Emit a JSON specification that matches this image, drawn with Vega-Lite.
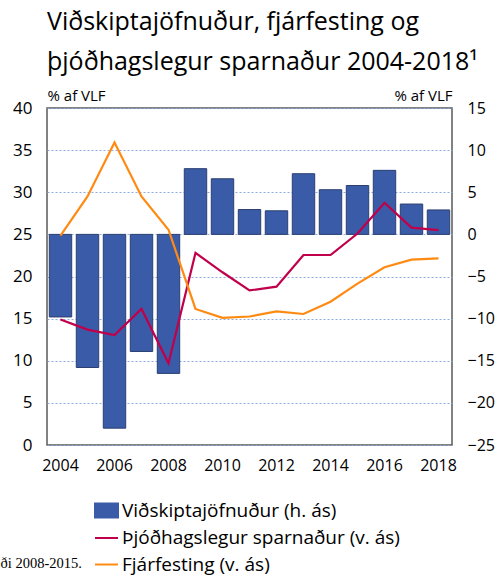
{
  "$schema": "https://vega.github.io/schema/vega-lite/v6.json",
  "width": 405,
  "height": 337,
  "autosize": {"type": "none"},
  "padding": {"left": 47, "top": 108, "right": 43, "bottom": 131},
  "background": "white",
  "config": {
    "view": {"stroke": "#595959", "strokeWidth": 1.5},
    "font": "Open Sans",
    "axis": {"labelFont": "Open Sans", "titleFont": "Open Sans", "labelColor": "#000", "titleColor": "#000"}
  },
  "title": {
    "text": ["Viðskiptajöfnuður, fjárfesting og", "þjóðhagslegur sparnaður 2004-2018¹"],
    "anchor": "start",
    "frame": "group",
    "font": "Open Sans",
    "fontSize": 25,
    "fontWeight": "normal",
    "lineHeight": 40,
    "color": "#000",
    "offset": 13
  },
  "data": {
    "values": [
      {"year": 2004, "series": "Viðskiptajöfnuður (h. ás)", "value": -9.8},
      {"year": 2005, "series": "Viðskiptajöfnuður (h. ás)", "value": -15.8},
      {"year": 2006, "series": "Viðskiptajöfnuður (h. ás)", "value": -23.0},
      {"year": 2007, "series": "Viðskiptajöfnuður (h. ás)", "value": -13.9},
      {"year": 2008, "series": "Viðskiptajöfnuður (h. ás)", "value": -16.5},
      {"year": 2009, "series": "Viðskiptajöfnuður (h. ás)", "value": 7.8},
      {"year": 2010, "series": "Viðskiptajöfnuður (h. ás)", "value": 6.6},
      {"year": 2011, "series": "Viðskiptajöfnuður (h. ás)", "value": 2.95},
      {"year": 2012, "series": "Viðskiptajöfnuður (h. ás)", "value": 2.8},
      {"year": 2013, "series": "Viðskiptajöfnuður (h. ás)", "value": 7.2},
      {"year": 2014, "series": "Viðskiptajöfnuður (h. ás)", "value": 5.3},
      {"year": 2015, "series": "Viðskiptajöfnuður (h. ás)", "value": 5.8},
      {"year": 2016, "series": "Viðskiptajöfnuður (h. ás)", "value": 7.6},
      {"year": 2017, "series": "Viðskiptajöfnuður (h. ás)", "value": 3.6},
      {"year": 2018, "series": "Viðskiptajöfnuður (h. ás)", "value": 2.9},
      {"year": 2004, "series": "Þjóðhagslegur sparnaður (v. ás)", "value": 14.9},
      {"year": 2005, "series": "Þjóðhagslegur sparnaður (v. ás)", "value": 13.7},
      {"year": 2006, "series": "Þjóðhagslegur sparnaður (v. ás)", "value": 13.05},
      {"year": 2007, "series": "Þjóðhagslegur sparnaður (v. ás)", "value": 16.15},
      {"year": 2008, "series": "Þjóðhagslegur sparnaður (v. ás)", "value": 9.7},
      {"year": 2009, "series": "Þjóðhagslegur sparnaður (v. ás)", "value": 22.8},
      {"year": 2010, "series": "Þjóðhagslegur sparnaður (v. ás)", "value": 20.5},
      {"year": 2011, "series": "Þjóðhagslegur sparnaður (v. ás)", "value": 18.35},
      {"year": 2012, "series": "Þjóðhagslegur sparnaður (v. ás)", "value": 18.8},
      {"year": 2013, "series": "Þjóðhagslegur sparnaður (v. ás)", "value": 22.55},
      {"year": 2014, "series": "Þjóðhagslegur sparnaður (v. ás)", "value": 22.55},
      {"year": 2015, "series": "Þjóðhagslegur sparnaður (v. ás)", "value": 25.1},
      {"year": 2016, "series": "Þjóðhagslegur sparnaður (v. ás)", "value": 28.75},
      {"year": 2017, "series": "Þjóðhagslegur sparnaður (v. ás)", "value": 25.8},
      {"year": 2018, "series": "Þjóðhagslegur sparnaður (v. ás)", "value": 25.5},
      {"year": 2004, "series": "Fjárfesting (v. ás)", "value": 24.85},
      {"year": 2005, "series": "Fjárfesting (v. ás)", "value": 29.5},
      {"year": 2006, "series": "Fjárfesting (v. ás)", "value": 35.9},
      {"year": 2007, "series": "Fjárfesting (v. ás)", "value": 29.5},
      {"year": 2008, "series": "Fjárfesting (v. ás)", "value": 25.55},
      {"year": 2009, "series": "Fjárfesting (v. ás)", "value": 16.15},
      {"year": 2010, "series": "Fjárfesting (v. ás)", "value": 15.1},
      {"year": 2011, "series": "Fjárfesting (v. ás)", "value": 15.25},
      {"year": 2012, "series": "Fjárfesting (v. ás)", "value": 15.85},
      {"year": 2013, "series": "Fjárfesting (v. ás)", "value": 15.55},
      {"year": 2014, "series": "Fjárfesting (v. ás)", "value": 17.0},
      {"year": 2015, "series": "Fjárfesting (v. ás)", "value": 19.15},
      {"year": 2016, "series": "Fjárfesting (v. ás)", "value": 21.1},
      {"year": 2017, "series": "Fjárfesting (v. ás)", "value": 22.0},
      {"year": 2018, "series": "Fjárfesting (v. ás)", "value": 22.15}
    ]
  },
  "encoding": {
    "x": {
      "field": "year",
      "type": "ordinal",
      "scale": {"paddingInner": 0.17, "paddingOuter": 0.085},
      "axis": {
        "values": [2004, 2006, 2008, 2010, 2012, 2014, 2016, 2018],
        "labelAngle": 0,
        "labelFontSize": 16,
        "labelPadding": 12,
        "ticks": false,
        "domain": false,
        "title": "ði 2008-2015.",
        "titleFont": "Liberation Serif",
        "titleFontSize": 14.5,
        "titleFontWeight": "normal",
        "titleAnchor": "start",
        "titleAlign": "left",
        "titleBaseline": "alphabetic",
        "titleX": -47,
        "titleY": 122
      }
    },
    "color": {
      "field": "series",
      "type": "nominal",
      "scale": {
        "domain": ["Viðskiptajöfnuður (h. ás)", "Þjóðhagslegur sparnaður (v. ás)", "Fjárfesting (v. ás)"],
        "range": ["#3A5BA8", "#C0004B", "#FF8A12"]
      },
      "legend": {
        "title": null,
        "orient": "none",
        "legendX": 47,
        "legendY": 390,
        "direction": "vertical",
        "labelFont": "Open Sans",
        "labelFontSize": 19,
        "labelColor": "#000",
        "labelOffset": 3,
        "rowPadding": 3.5,
        "symbolSize": 529,
        "labelLimit": 400,
        "encode": {
          "symbols": {
            "update": {
              "shape": {"signal": "datum.value === 'Viðskiptajöfnuður (h. ás)' ? 'M-1,-0.6H1V0.6H-1Z' : 'M-1,0H1'"},
              "fill": {"signal": "datum.value === 'Viðskiptajöfnuður (h. ás)' ? '#3A5BA8' : 'transparent'"},
              "stroke": {"signal": "datum.value === 'Viðskiptajöfnuður (h. ás)' ? 'transparent' : (datum.value === 'Fjárfesting (v. ás)' ? '#FF8A12' : '#C0004B')"},
              "strokeWidth": {"value": 2},
              "opacity": {"value": 1}
            }
          }
        }
      }
    }
  },
  "layer": [
    {
      "transform": [{"filter": "datum.series === 'Viðskiptajöfnuður (h. ás)'"}],
      "mark": {"type": "bar", "stroke": "#2B3F70", "strokeWidth": 1},
      "encoding": {
        "y": {
          "field": "value",
          "type": "quantitative",
          "scale": {"domain": [-25, 15], "nice": false, "zero": false},
          "axis": {
            "orient": "right",
            "values": [-25, -20, -15, -10, -5, 0, 5, 10, 15],
            "labelFontSize": 16,
            "labelPadding": 15,
            "labelAlign": "left",
            "ticks": false,
            "domain": false,
            "grid": false,
            "title": "% af VLF",
            "titleFontSize": 15,
            "titleFontWeight": "normal",
            "titleAngle": 0,
            "titleAlign": "right",
            "titleBaseline": "bottom",
            "titleX": 0,
            "titleY": -5
          }
        }
      }
    },
    {
      "transform": [{"filter": "datum.series !== 'Viðskiptajöfnuður (h. ás)'"}],
      "mark": {"type": "line", "strokeWidth": 2.2},
      "encoding": {
        "y": {
          "field": "value",
          "type": "quantitative",
          "scale": {"domain": [0, 40], "nice": false},
          "axis": {
            "orient": "left",
            "values": [0, 5, 10, 15, 20, 25, 30, 35, 40],
            "labelFontSize": 17,
            "labelPadding": 15,
            "ticks": false,
            "domain": false,
            "grid": true,
            "gridColor": "#8FAADC",
            "gridDash": [2, 2],
            "gridWidth": 1,
            "title": "% af VLF",
            "titleFontSize": 15,
            "titleFontWeight": "normal",
            "titleAngle": 0,
            "titleAlign": "left",
            "titleBaseline": "bottom",
            "titleX": 0,
            "titleY": -5
          }
        }
      }
    }
  ],
  "resolve": {"scale": {"y": "independent"}, "axis": {"y": "independent"}}
}
